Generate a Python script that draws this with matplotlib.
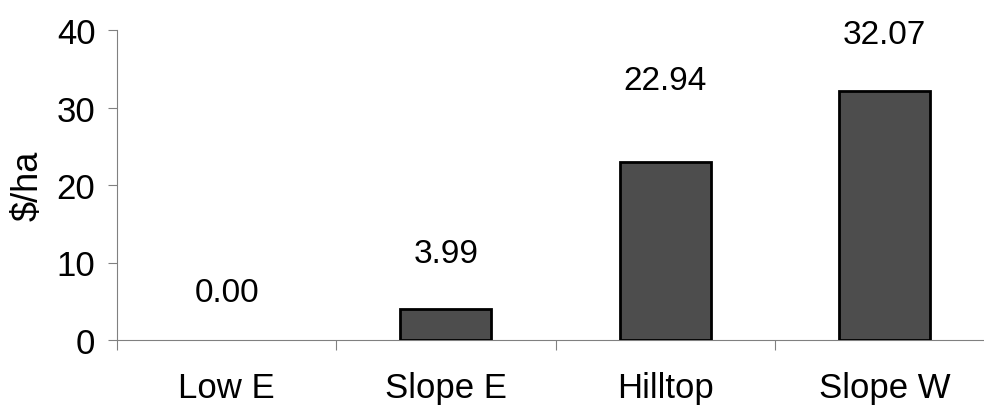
import matplotlib
matplotlib.use("Agg")
import matplotlib.pyplot as plt

categories = ["Low E", "Slope E", "Hilltop", "Slope W"]
values = [0.00, 3.99, 22.94, 32.07]
y_ticks = [0, 10, 20, 30, 40]
y_label = "$/ha"

# style: vertical offsets (points) of value labels above bar tops
label_offsets_pt = [34, 40, 59, 41]

plt.rcParams['font.family'] = ['Liberation Sans', 'DejaVu Sans']

fig = plt.figure(figsize=(9.84, 4.14), dpi=100)
ax = fig.add_axes([117/984, 73/414, 877/984, 310/414])

x = list(range(len(categories)))
lw = [0 if v == 0 else 2.0 for v in values]
ax.bar(x, values, width=0.415, color="#4d4d4d", edgecolor="black", linewidth=lw, zorder=3)

for xi, v, off in zip(x, values, label_offsets_pt):
    ax.annotate(f"{v:.2f}", xy=(xi, v), xytext=(0, off), textcoords="offset points",
                ha="center", va="center", fontsize=24, annotation_clip=False)

ax.set_xlim(-0.5, len(categories) - 0.5)
ax.set_ylim(0, 40)
ax.set_yticks(y_ticks)
ax.set_yticklabels([str(t) for t in y_ticks], fontsize=25)
ax.tick_params(axis="y", length=6.5, width=0.8, color="#808080", pad=9)

# major x ticks at category boundaries, labels at centers via minor ticks
ax.set_xticks([i - 0.5 for i in range(len(categories) + 1)])
ax.set_xticklabels([])
ax.tick_params(axis="x", which="major", length=7.5, width=0.8, color="#808080")
ax.set_xticks(x, minor=True)
ax.set_xticklabels(categories, minor=True, fontsize=25)
ax.tick_params(axis="x", which="minor", length=0, pad=22)

for s in ["top", "right"]:
    ax.spines[s].set_visible(False)
for s in ["left", "bottom"]:
    ax.spines[s].set_color("#808080")
    ax.spines[s].set_linewidth(0.8)

ax.set_ylabel(y_label, fontsize=26, labelpad=8)

fig.savefig("out.png", dpi=100)
